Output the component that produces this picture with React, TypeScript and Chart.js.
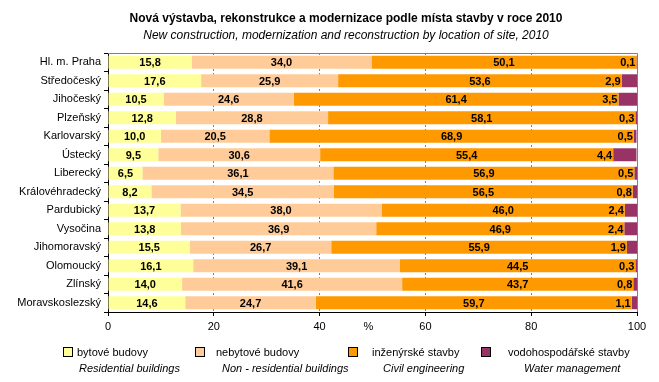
import React, { useEffect, useRef } from "react";
import { Chart, registerables } from "chart.js";

Chart.register(...registerables);

const categories = [
  "Hl. m. Praha",
  "Středočeský",
  "Jihočeský",
  "Plzeňský",
  "Karlovarský",
  "Ústecký",
  "Liberecký",
  "Královéhradecký",
  "Pardubický",
  "Vysočina",
  "Jihomoravský",
  "Olomoucký",
  "Zlínský",
  "Moravskoslezský",
];

const residential = [15.8, 17.6, 10.5, 12.8, 10.0, 9.5, 6.5, 8.2, 13.7, 13.8, 15.5, 16.1, 14.0, 14.6];
const nonResidential = [34.0, 25.9, 24.6, 28.8, 20.5, 30.6, 36.1, 34.5, 38.0, 36.9, 26.7, 39.1, 41.6, 24.7];
const civilEngineering = [50.1, 53.6, 61.4, 58.1, 68.9, 55.4, 56.9, 56.5, 46.0, 46.9, 55.9, 44.5, 43.7, 59.7];
const waterManagement = [0.1, 2.9, 3.5, 0.3, 0.5, 4.4, 0.5, 0.8, 2.4, 2.4, 1.9, 0.3, 0.8, 1.1];

const seriesCz = ["bytové budovy", "nebytové budovy", "inženýrské stavby", "vodohospodářské stavby"];
const seriesEn = ["Residential buildings", "Non - residential buildings", "Civil engineering", "Water management"];
const seriesColors = ["#FFFF99", "#FFCC99", "#FF9900", "#993366"];

const xTicks = [0, 20, 40, 60, 80, 100];

const titleText = "Nová výstavba, rekonstrukce a modernizace podle místa stavby v roce 2010";
const subtitleText = "New construction, modernization and reconstruction by location of site, 2010";

const FONT = "'Liberation Sans', Arial, sans-serif";

const fmt = (v: number) => v.toFixed(1).replace(".", ",");

const decorPlugin = {
  id: "decor",
  afterDatasetsDraw(chart: any) {
    const ctx = chart.ctx;
    const area = chart.chartArea;
    // plot border (top & right) grey
    ctx.save();
    ctx.strokeStyle = "#808080";
    ctx.lineWidth = 1;
    ctx.beginPath();
    ctx.moveTo(area.left, Math.round(area.top) + 0.5);
    ctx.lineTo(Math.round(area.right) + 0.5, Math.round(area.top) + 0.5);
    ctx.lineTo(Math.round(area.right) + 0.5, area.bottom);
    ctx.stroke();
    ctx.restore();

    // value labels
    ctx.save();
    ctx.font = `bold 11px ${FONT}`;
    ctx.fillStyle = "#000";
    ctx.textBaseline = "middle";
    chart.data.datasets.forEach((ds: any, di: number) => {
      const meta = chart.getDatasetMeta(di);
      meta.data.forEach((bar: any, i: number) => {
        const { x, y, base } = bar.getProps(["x", "y", "base"], true);
        const text = fmt(ds.data[i]);
        if (di < 3) {
          ctx.textAlign = "center";
          ctx.fillText(text, (x + base) / 2, y + 1);
        } else {
          ctx.textAlign = "right";
          ctx.fillText(text, base - 1, y + 1);
        }
      });
    });
    ctx.restore();
  },
  afterDraw(chart: any) {
    const ctx = chart.ctx;
    const area = chart.chartArea;
    ctx.save();
    ctx.fillStyle = "#000";
    ctx.textAlign = "center";
    ctx.textBaseline = "middle";
    ctx.font = `bold 12px ${FONT}`;
    ctx.fillText(titleText, 346, 19);
    ctx.font = `italic 12px ${FONT}`;
    ctx.fillText(subtitleText, 346, 36);

    // % label on the tick line
    ctx.font = `11px ${FONT}`;
    ctx.fillText("%", (area.left + area.right) / 2 - 4, 327);

    // legend
    const boxX = [63, 195, 348, 481];
    const czX = [77, 216, 372, 508];
    const enX = [79, 222, 383, 524];
    ctx.textAlign = "left";
    for (let k = 0; k < 4; k++) {
      ctx.fillStyle = seriesColors[k];
      ctx.fillRect(boxX[k], 347, 9, 9);
      ctx.strokeStyle = "#000";
      ctx.lineWidth = 1;
      ctx.strokeRect(boxX[k] + 0.5, 347.5, 9, 9);
      ctx.fillStyle = "#000";
      ctx.font = `11px ${FONT}`;
      ctx.fillText(seriesCz[k], czX[k], 353);
      ctx.font = `italic 11px ${FONT}`;
      ctx.fillText(seriesEn[k], enX[k], 369);
    }
    ctx.restore();
  },
};

export default function App() {
  const ref = useRef<HTMLCanvasElement | null>(null);

  useEffect(() => {
    if (!ref.current) return;
    const values = [residential, nonResidential, civilEngineering, waterManagement];
    const chart = new Chart(ref.current, {
      type: "bar",
      data: {
        labels: categories,
        datasets: values.map((v, k) => ({
          label: seriesCz[k],
          data: v,
          backgroundColor: seriesColors[k],
          borderWidth: 0,
          barPercentage: 0.7,
          categoryPercentage: 1,
        })),
      },
      options: {
        indexAxis: "y",
        responsive: false,
        animation: false,
        devicePixelRatio: 1,
        layout: { padding: { top: 53, right: 22, left: 0, bottom: 0 } },
        plugins: {
          legend: { display: false },
          title: { display: false },
          tooltip: { enabled: false },
        },
        scales: {
          x: {
            stacked: true,
            min: 0,
            max: 100,
            afterBuildTicks: (scale: any) => {
              scale.ticks = xTicks.map((v) => ({ value: v }));
            },
            afterFit: (scale: any) => {
              scale.height = 70;
            },
            ticks: {
              color: "#000",
              font: { family: FONT, size: 11 },
              padding: 4,
              maxRotation: 0,
            },
            grid: {
              drawOnChartArea: true,
              drawTicks: true,
              tickLength: 4,
              tickColor: "#000",
              color: (c: any) =>
                c.tick && (c.tick.value === 0 || c.tick.value === 100) ? "rgba(0,0,0,0)" : "#808080",
            },
            border: { display: true, color: "#000", width: 1, dash: [2, 2] },
          },
          y: {
            stacked: true,
            afterFit: (scale: any) => {
              scale.width = 108;
            },
            ticks: {
              color: "#000",
              font: { family: FONT, size: 11 },
              padding: 3,
              autoSkip: false,
            },
            grid: {
              offset: true,
              drawOnChartArea: false,
              drawTicks: true,
              tickLength: 4,
              tickColor: "#000",
              color: "#000",
            },
            border: { display: true, color: "#000", width: 1 },
          },
        },
      },
      plugins: [decorPlugin],
    } as any);
    return () => chart.destroy();
  }, []);

  return (
    <div style={{ position: "fixed", left: 0, top: 0, width: 659, height: 382, background: "#fff" }}>
      <canvas ref={ref} width={659} height={382} style={{ width: 659, height: 382, display: "block" }} />
    </div>
  );
}
